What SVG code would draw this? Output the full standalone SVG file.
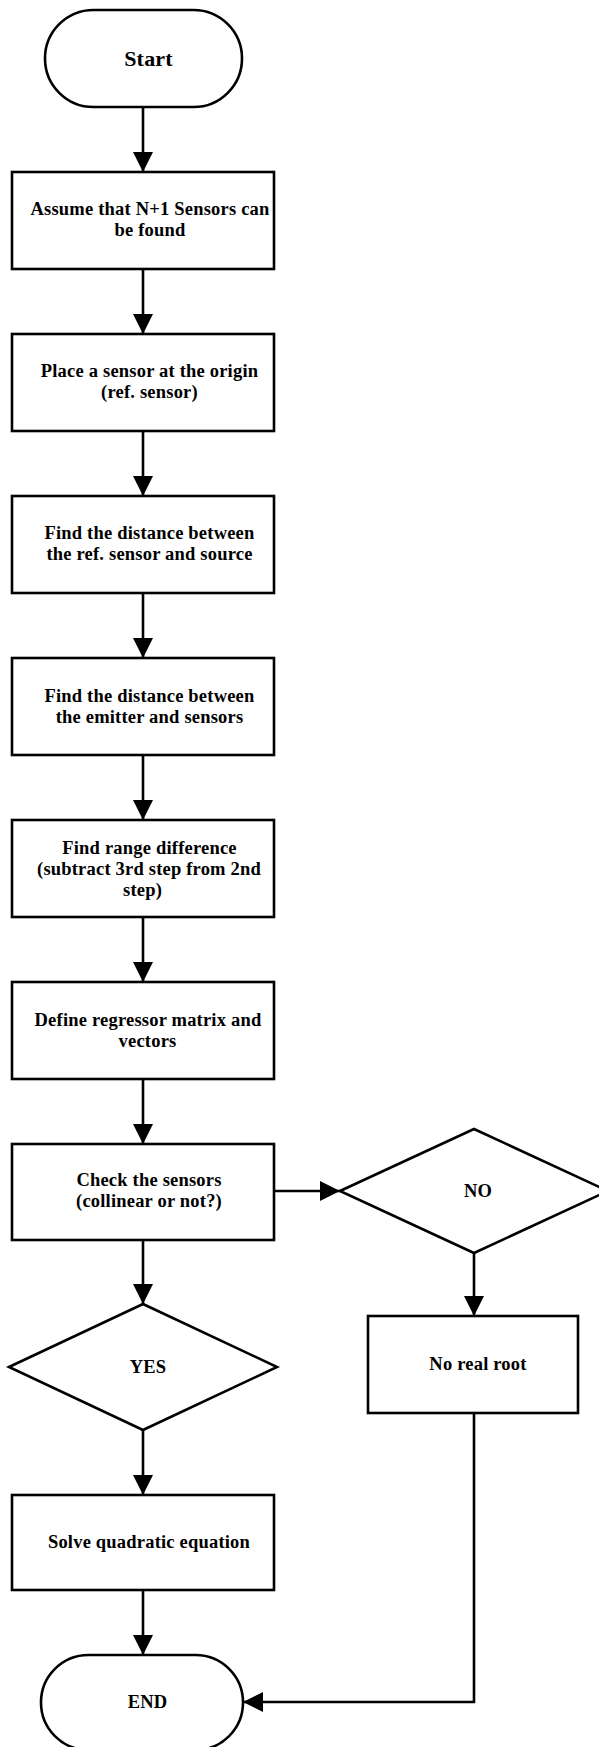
<svg xmlns="http://www.w3.org/2000/svg" width="599" height="1747" viewBox="0 0 599 1747">
<defs>
<marker id="ah" viewBox="0 0 20 20" refX="20" refY="10" markerWidth="20" markerHeight="20" markerUnits="userSpaceOnUse" orient="auto">
<path d="M0,0 L20,10 L0,20 Z" fill="#000"/>
</marker>
</defs>
<style>
.s{fill:#fff;stroke:#000;stroke-width:2.6}
.c{fill:none;stroke:#000;stroke-width:2.6}
text{font-family:"Liberation Serif","Times New Roman",serif;font-weight:bold;font-size:18.5px;fill:#000;text-anchor:middle;letter-spacing:0.2px}
</style>
<rect width="599" height="1747" fill="#fff"/>
<g id="connectors">
<line class="c" x1="143" y1="107" x2="143" y2="172" marker-end="url(#ah)"/>
<line class="c" x1="143" y1="269" x2="143" y2="334" marker-end="url(#ah)"/>
<line class="c" x1="143" y1="431" x2="143" y2="496" marker-end="url(#ah)"/>
<line class="c" x1="143" y1="593" x2="143" y2="658" marker-end="url(#ah)"/>
<line class="c" x1="143" y1="755" x2="143" y2="820" marker-end="url(#ah)"/>
<line class="c" x1="143" y1="917" x2="143" y2="982" marker-end="url(#ah)"/>
<line class="c" x1="143" y1="1079" x2="143" y2="1144" marker-end="url(#ah)"/>
<line class="c" x1="274" y1="1191" x2="340" y2="1191" marker-end="url(#ah)"/>
<line class="c" x1="143" y1="1240" x2="143" y2="1304" marker-end="url(#ah)"/>
<line class="c" x1="474" y1="1253" x2="474" y2="1316" marker-end="url(#ah)"/>
<line class="c" x1="143" y1="1430" x2="143" y2="1495" marker-end="url(#ah)"/>
<line class="c" x1="143" y1="1590" x2="143" y2="1655" marker-end="url(#ah)"/>
<polyline class="c" points="474,1413 474,1702 243,1702" marker-end="url(#ah)"/>
</g>
<g id="start">
<rect class="s" x="45" y="10" width="197" height="97" rx="48.5" ry="48.5"/>
<text x="148.5" y="66" style="font-size:22px">Start</text>
</g>
<g id="step1">
<rect class="s" x="12" y="172" width="262" height="97"/>
<text x="150" y="215">Assume that N+1 Sensors can</text>
<text x="150" y="236">be found</text>
</g>
<g id="step2">
<rect class="s" x="12" y="334" width="262" height="97"/>
<text x="149.5" y="377">Place a sensor at the origin</text>
<text x="149.5" y="398">(ref. sensor)</text>
</g>
<g id="step3">
<rect class="s" x="12" y="496" width="262" height="97"/>
<text x="149.5" y="539">Find the distance between</text>
<text x="149.5" y="560">the ref. sensor and source</text>
</g>
<g id="step4">
<rect class="s" x="12" y="658" width="262" height="97"/>
<text x="149.5" y="702">Find the distance between</text>
<text x="149.5" y="723">the emitter and sensors</text>
</g>
<g id="step5">
<rect class="s" x="12" y="820" width="262" height="97"/>
<text x="149.5" y="854">Find range difference</text>
<text x="149" y="875">(subtract 3rd step from 2nd</text>
<text x="142.5" y="896">step)</text>
</g>
<g id="step6">
<rect class="s" x="12" y="982" width="262" height="97"/>
<text x="148" y="1026">Define regressor matrix and</text>
<text x="147.5" y="1047">vectors</text>
</g>
<g id="check">
<rect class="s" x="12" y="1144" width="262" height="96"/>
<text x="149" y="1186">Check the sensors</text>
<text x="149" y="1207">(collinear or not?)</text>
</g>
<g id="no">
<polygon class="s" points="340,1191 474,1129 608,1191 474,1253"/>
<text x="478" y="1197">NO</text>
</g>
<g id="noroot">
<rect class="s" x="368" y="1316" width="210" height="97"/>
<text x="478" y="1370">No real root</text>
</g>
<g id="yes">
<polygon class="s" points="9,1367 143,1304 277,1367 143,1430"/>
<text x="148" y="1373">YES</text>
</g>
<g id="solve">
<rect class="s" x="12" y="1495" width="262" height="95"/>
<text x="149" y="1548">Solve quadratic equation</text>
</g>
<g id="end">
<rect class="s" x="41" y="1655" width="202" height="95" rx="47.5" ry="47.5"/>
<text x="147.5" y="1708">END</text>
</g>
</svg>
